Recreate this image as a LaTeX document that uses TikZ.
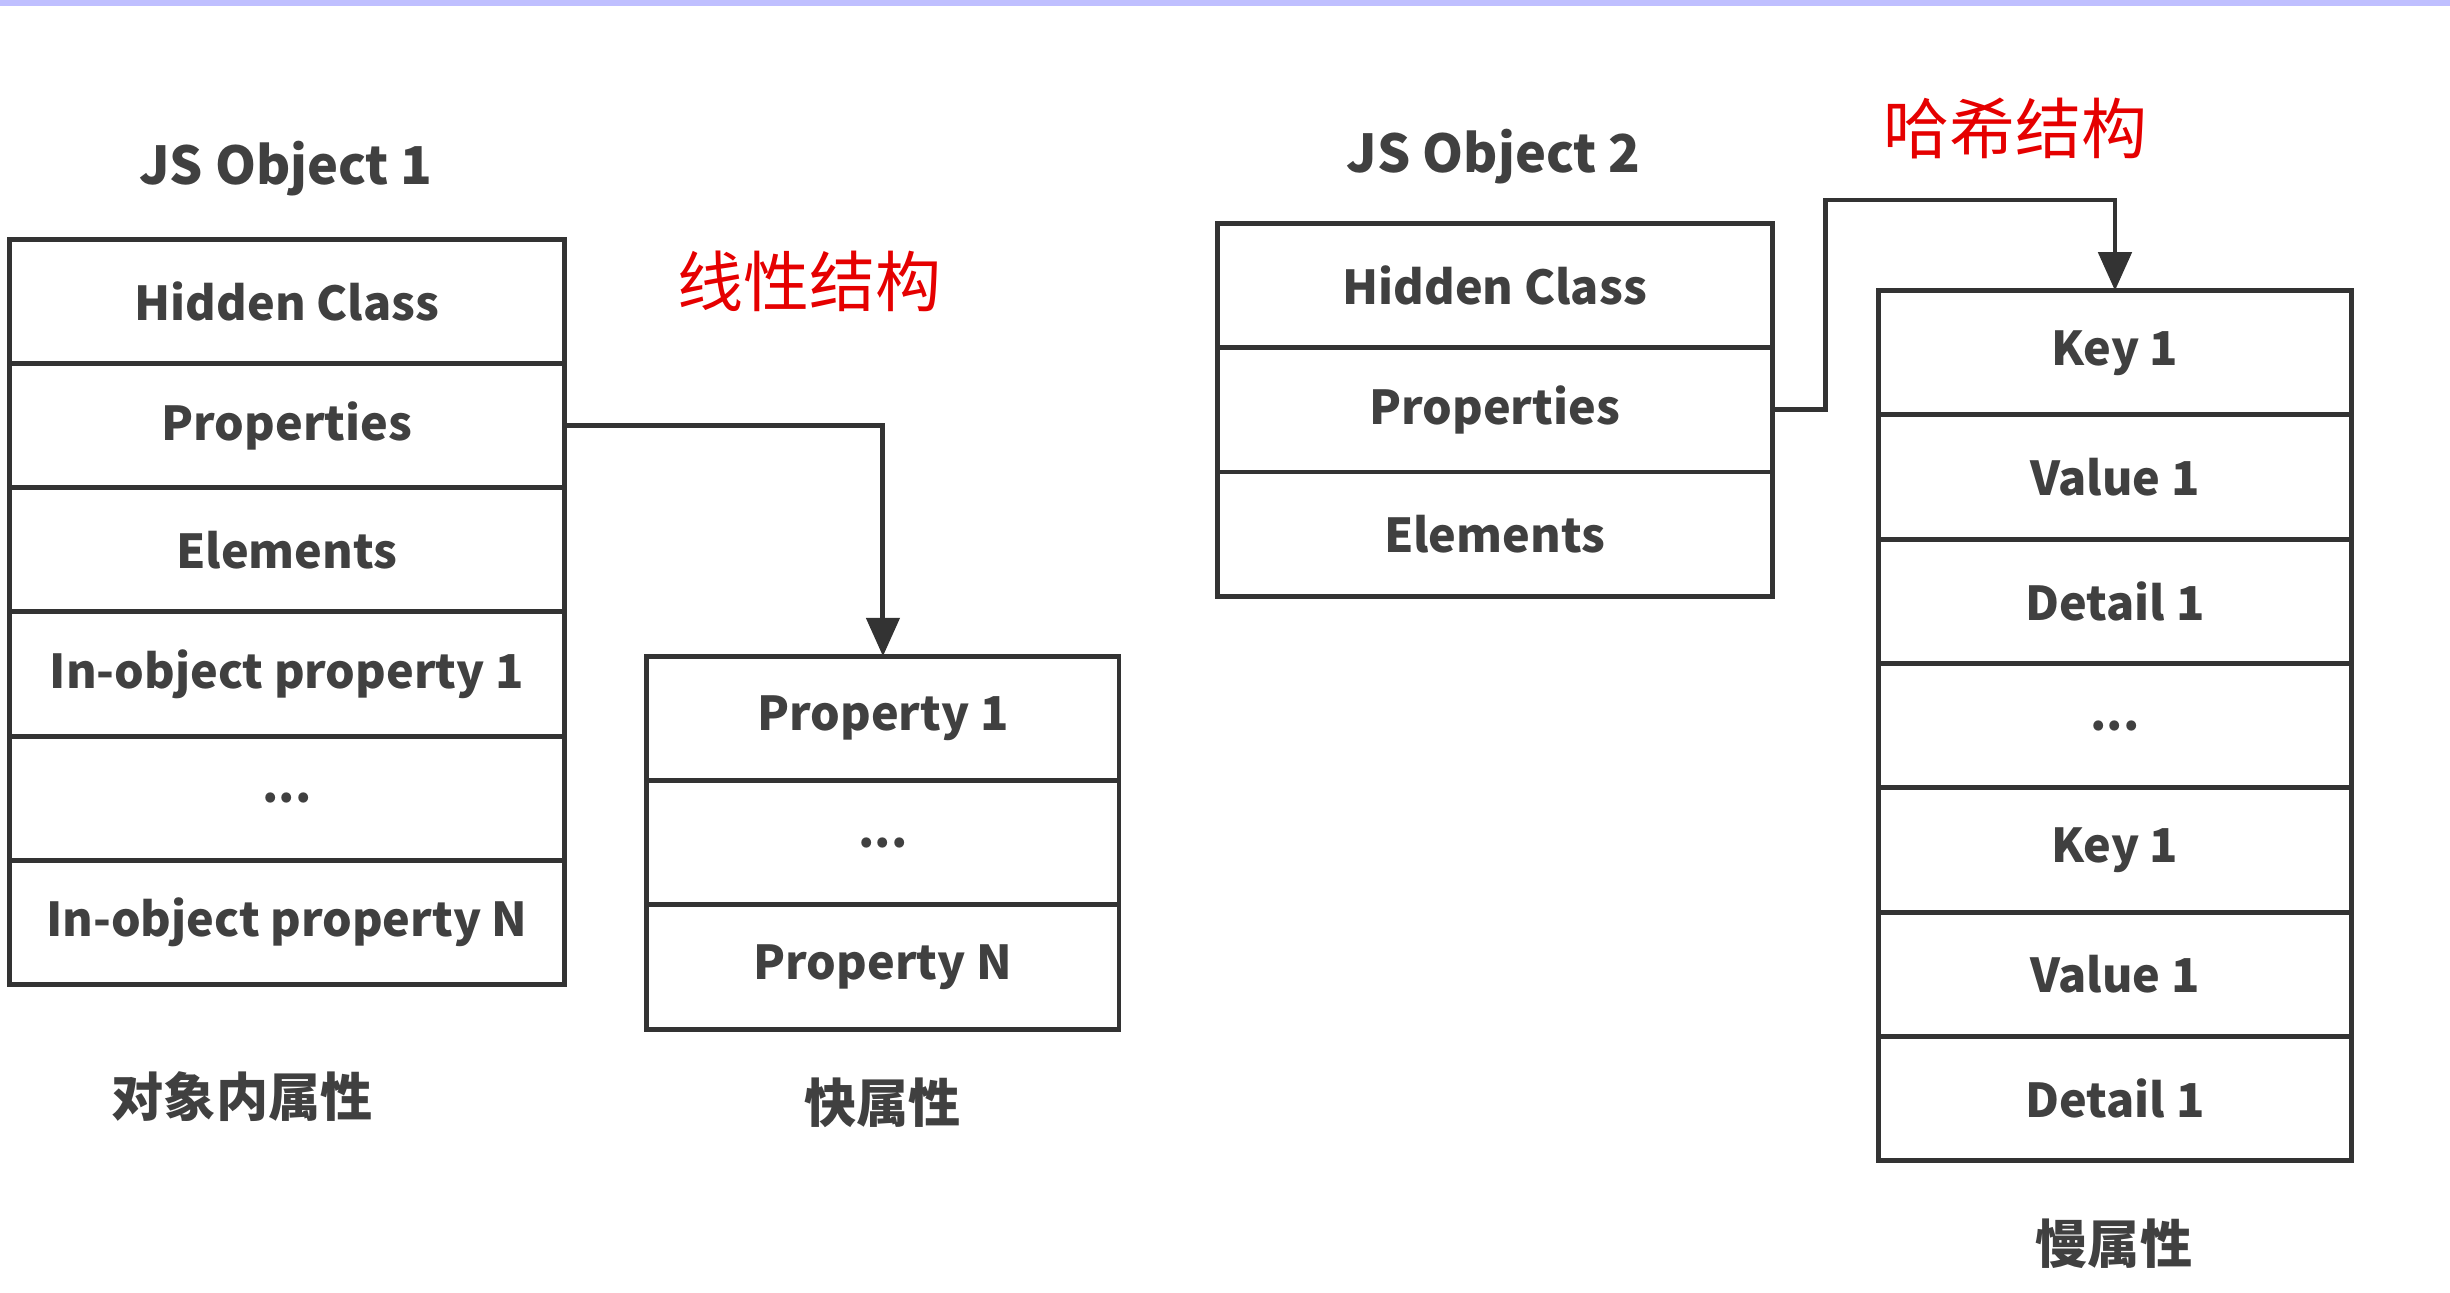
\documentclass[tikz,border=0pt]{standalone}
\usepackage{fontspec}
\setmainfont{Noto Sans CJK SC}
\usetikzlibrary{positioning,arrows.meta}
\tikzset {
    cell/.style={
        draw=black!80,
        line width=0.9pt,
        rectangle, % Set the shape as a rectangle
        minimum height=0.795cm,
        inner sep=0pt,
        outer sep=0pt,
        font=\fontsize{8.5}{10}\selectfont\bfseries,
        text=black!75,
        align=center,
    },
    title/.style={font=\fontsize{9.5}{11}\selectfont\bfseries, text=black!75},
    red label/.style={font=\fontsize{12}{14}\selectfont, text=red!90!black},
    link/.style={draw=black!80, line width=0.9pt, -{Triangle[length=7pt,width=6pt]}},
}
\begin{document}
\begin{tikzpicture}[x=0.01cm, y=-0.01cm]
\useasboundingbox (0,0) rectangle (1568,827);
\draw[blue!25, line width=1.5pt] (0,1) -- (1568,1);

% JS Object 1
\node[title] at (183,108) (titleA) {JS Object 1};
\node[cell, minimum width=3.55cm, anchor=north west] at (6,153) (hidA) {Hidden Class};
\node[cell, minimum width=3.55cm, below=0pt of hidA] (propA) {Properties};
\node[cell, minimum width=3.55cm, below=0pt of propA] (elemA) {Elements};
\node[cell, minimum width=3.55cm, below=0pt of elemA] (inobj1) {In-object property 1};
\node[cell, minimum width=3.55cm, below=0pt of inobj1] (dotsA) {...};
\node[cell, minimum width=3.55cm, below=0pt of dotsA] (inobjN) {In-object property N};
\node[title] at (155,702) (labA) {对象内属性};

% fast properties
\node[cell, minimum width=3.02cm, anchor=north west] at (414,420) (fast1) {Property 1};
\node[cell, minimum width=3.02cm, below=0pt of fast1] (fastdots) {...};
\node[cell, minimum width=3.02cm, below=0pt of fastdots] (fastN) {Property N};
\node[title] at (565,706) (labB) {快属性};
\node[red label] at (518,180) (linear) {线性结构};

% JS Object 2
\node[title] at (956,100) (titleB) {JS Object 2};
\node[cell, minimum width=3.55cm, anchor=north west] at (779,143) (hidB) {Hidden Class};
\node[cell, minimum width=3.55cm, below=0pt of hidB] (propB) {Properties};
\node[cell, minimum width=3.55cm, below=0pt of propB] (elemB) {Elements};

% slow properties
\node[cell, minimum width=3.03cm, anchor=north west] at (1202,186) (key1) {Key 1};
\node[cell, minimum width=3.03cm, below=0pt of key1] (val1) {Value 1};
\node[cell, minimum width=3.03cm, below=0pt of val1] (det1) {Detail 1};
\node[cell, minimum width=3.03cm, below=0pt of det1] (slowdots) {...};
\node[cell, minimum width=3.03cm, below=0pt of slowdots] (key2) {Key 1};
\node[cell, minimum width=3.03cm, below=0pt of key2] (val2) {Value 1};
\node[cell, minimum width=3.03cm, below=0pt of val2] (det2) {Detail 1};
\node[title] at (1353,796) (labC) {慢属性};
\node[red label] at (1290,82) (hash) {哈希结构};

\draw[link] (propA.east) -| (fast1.north);
\draw[link] (propB.east) -- ++(34,0) |- (1260,128) -| (key1.north);
\end{tikzpicture}
\end{document}
